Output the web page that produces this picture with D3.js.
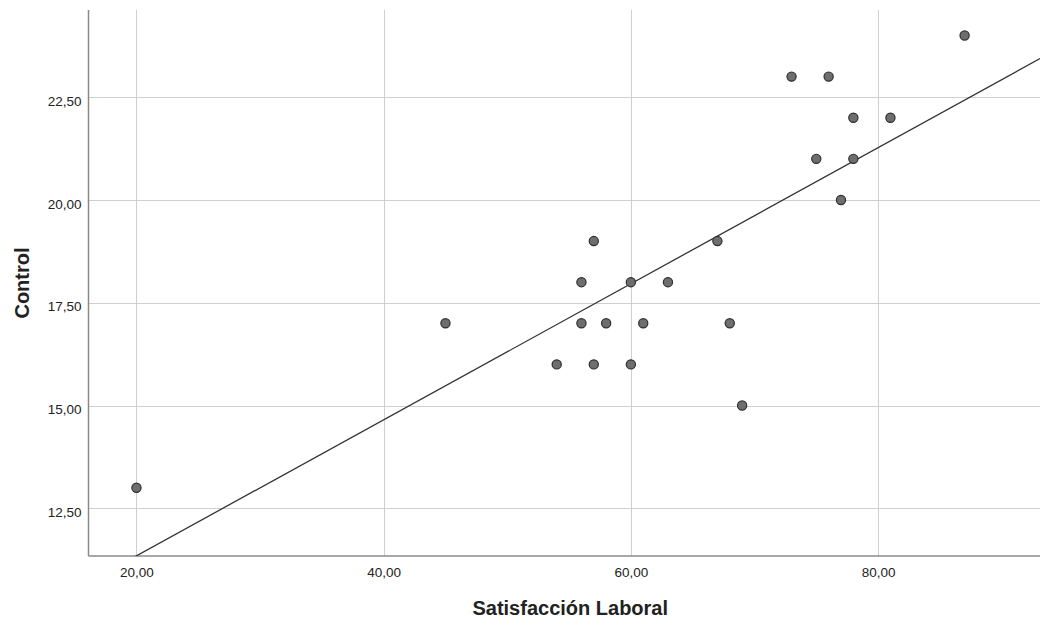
<!DOCTYPE html>
<html><head><meta charset="utf-8">
<script src="https://cdn.jsdelivr.net/npm/d3@7"></script>
<style>body{margin:0;background:#fff}svg{display:block}</style>
</head><body>
<script>
const satisfaccion = [20,45,54,56,56,57,57,58,60,60,61,63,67,68,69,73,75,76,77,78,78,81,87];
const control      = [13,17,16,18,17,19,16,17,18,16,17,18,19,17,15,23,21,23,20,22,21,22,24];
const xTicks = [20,40,60,80];
const yTicks = [12.5,15,17.5,20,22.5];
const xTitle = "Satisfacción Laboral";
const yTitle = "Control";

const W=1040,H=618;
const m={left:88.5,top:10,right:0,bottom:62};
const svg=d3.select("body").append("svg").attr("width",W).attr("height",H);
const x=d3.scaleLinear().domain([16.12,93.1]).range([m.left,W-m.right]);
const y=d3.scaleLinear().domain([11.34,24.62]).range([H-m.bottom,m.top]);
const fmt=v=>d3.format(".2f")(v).replace(".",",");
const FF="Liberation Sans, Arial, sans-serif";

svg.append("defs").append("clipPath").attr("id","c").append("rect")
  .attr("x",m.left).attr("y",m.top).attr("width",W-m.left-m.right).attr("height",H-m.bottom-m.top);

// grid
svg.append("g").selectAll("line").data(xTicks).join("line")
  .attr("x1",d=>Math.round(x(d))+0.5).attr("x2",d=>Math.round(x(d))+0.5)
  .attr("y1",m.top).attr("y2",H-m.bottom).attr("stroke","#cfcfcf").attr("stroke-width",1);
svg.append("g").selectAll("line").data(yTicks).join("line")
  .attr("y1",d=>Math.round(y(d))+0.5).attr("y2",d=>Math.round(y(d))+0.5)
  .attr("x1",m.left).attr("x2",W).attr("stroke","#cfcfcf").attr("stroke-width",1);

// axes
const xa=svg.append("g").attr("transform",`translate(0,${H-m.bottom})`)
  .call(d3.axisBottom(x).tickValues(xTicks).tickFormat(fmt).tickSize(0).tickPadding(11));
const ya=svg.append("g").attr("transform",`translate(${m.left},0)`)
  .call(d3.axisLeft(y).tickValues(yTicks).tickFormat(fmt).tickSize(0).tickPadding(7));
[xa,ya].forEach(a=>{
  a.select(".domain").attr("stroke","#8a8a8a").attr("stroke-width",1.5);
  a.selectAll("text").attr("font-family",FF).attr("font-size",13.5).attr("fill","#222");
});
ya.selectAll("text").attr("dy","0.6em");
xa.select(".domain").attr("d",`M${m.left},0H${W}`);
ya.select(".domain").attr("d",`M0,${m.top}V${H-m.bottom}`);

// regression
const mx=d3.mean(satisfaccion),my=d3.mean(control);
const sxy=d3.sum(satisfaccion,(v,i)=>(v-mx)*(control[i]-my));
const sxx=d3.sum(satisfaccion,v=>(v-mx)*(v-mx));
const b=sxy/sxx,a0=my-b*mx;
const xd=x.domain();
svg.append("line").attr("clip-path","url(#c)")
  .attr("x1",x(xd[0])).attr("y1",y(a0+b*xd[0]))
  .attr("x2",x(xd[1])).attr("y2",y(a0+b*xd[1]))
  .attr("stroke","#333").attr("stroke-width",1.3);

// points
svg.append("g").selectAll("circle").data(satisfaccion).join("circle")
  .attr("cx",d=>x(d)).attr("cy",(d,i)=>y(control[i])).attr("r",4.6)
  .attr("fill","#6e6e6e").attr("stroke","#2e2e2e").attr("stroke-width",1.2);

// titles
svg.append("text").attr("x",(m.left+W)/2+6).attr("y",615).attr("text-anchor","middle")
  .attr("font-family",FF).attr("font-size",20).attr("font-weight","bold").attr("fill","#222").text(xTitle);
svg.append("text").attr("transform",`translate(28.5,${(m.top+H-m.bottom)/2}) rotate(-90)`).attr("text-anchor","middle")
  .attr("font-family",FF).attr("font-size",20).attr("font-weight","bold").attr("fill","#222").text(yTitle);
</script>
</body></html>
